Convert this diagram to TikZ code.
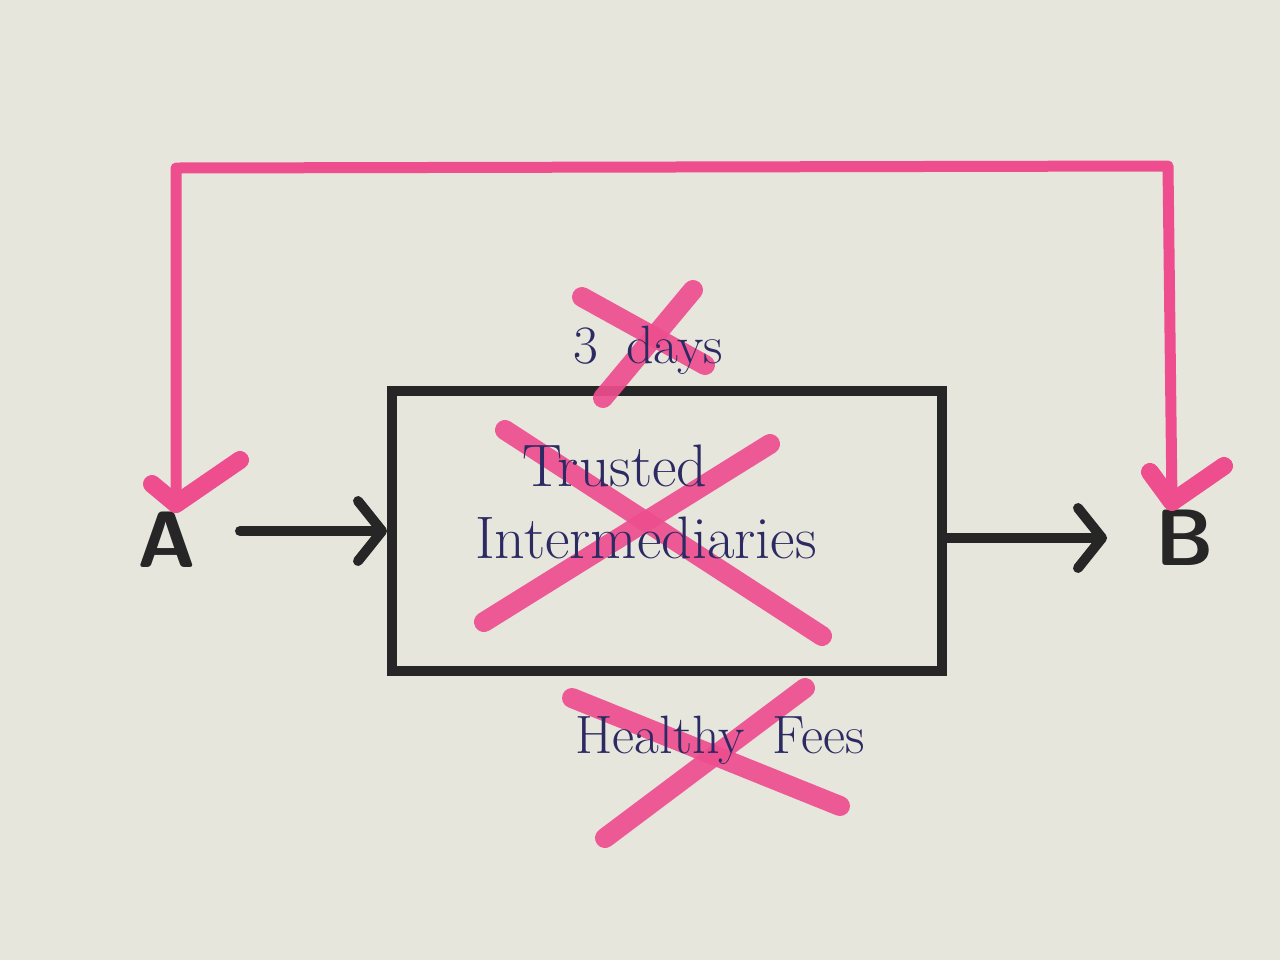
\documentclass[tikz,border=0pt]{standalone}
\usetikzlibrary{arrows.meta}
\definecolor{paper}{HTML}{E7E6DD}
\definecolor{marker}{HTML}{EE4E8E}
\definecolor{ink}{HTML}{2C2A62}
\definecolor{pen}{HTML}{262626}
\tikzset{
  blackline/.style={draw=pen, line width=5pt, line cap=round, line join=round},
  blackarrow/.style={blackline, -{Straight Barb[length=12pt 0, width=30pt 0, line cap=round, line join=round]}},
  pinkline/.style={draw=marker, line width=5.5pt, line cap=round, line join=round},
  pinkcross/.style={draw=marker, line width=10pt, line cap=round, opacity=0.92},
  handtext/.style={text=ink, font=\fontsize{27}{30}\selectfont, inner sep=0pt},
  bighand/.style={text=ink, font=\fontsize{30}{33}\selectfont, inner sep=0pt},
  letter/.style={text=pen, font=\fontsize{40}{44}\sffamily\bfseries\selectfont, inner sep=0pt},
  boxstyle/.style={draw=pen, line width=5pt, minimum width=275pt, minimum height=140pt, inner sep=0pt}
}
\begin{document}
\begin{tikzpicture}[x=0.5pt, y=-0.5pt]
\fill[paper] (0,0) rectangle (1280,960);
\useasboundingbox (0,0) rectangle (1280,960);

% nodes
\node[boxstyle] (box) at (667,531) {};
\node[letter] (A) at (167,540) {A};
\node[letter] (B) at (1185,538) {B};

% pink crosses
\draw[pinkcross] (582,297) -- (705,365);
\draw[pinkcross] (693,290) -- (603,398);
\draw[pinkcross] (505,430) -- (822,636);
\draw[pinkcross] (484,622) -- (770,444);
\draw[pinkcross] (572,698) -- (840,806);
\draw[pinkcross] (805,688) -- (605,838);

% texts
\node[handtext] (days) at (648,350) {3\hspace{14pt}days};
\node[bighand] (trusted) at (615,466) {Trusted};
\node[bighand] (inter) at (646,538) {Intermediaries};
\node[handtext] (fees) at (720,740) {Healthy\hspace{6pt} Fees};

% black connectors
\coordinate (aOut) at (240,531);
\draw[blackarrow] (aOut) -- (box.west |- aOut);
\coordinate (bIn) at (1107,538);
\draw[blackarrow] (box.east |- bIn) -- (bIn);

% pink connector A <-> B
\coordinate (aTip) at (176,504);
\coordinate (bTip) at (1172,502);
\draw[pinkline] (aTip) -- (176,168) -- (1168,166) -- (bTip);
\draw[pinkline, line width=9pt] (152,484) -- (aTip) -- (240,460);
\draw[pinkline, line width=9pt] (1150,472) -- (bTip) -- (1224,466);
\end{tikzpicture}
\end{document}
